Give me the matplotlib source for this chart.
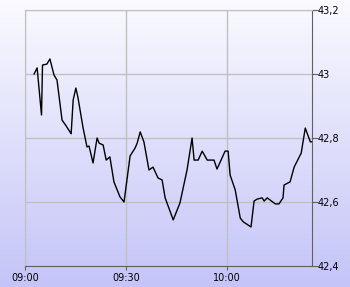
import numpy as np
import matplotlib.pyplot as plt

# minutes after 09:00 and price
minutes = [2.7, 3.6, 4.9, 5.2, 6.5, 7.4, 8.6, 9.5, 11.0, 12.2, 13.7, 14.3, 15.1, 15.7,
           17.2, 18.4, 19.0, 20.2, 21.4, 22.0, 23.2, 24.1, 25.2, 26.4, 28.2, 29.4,
           31.2, 32.7, 33.3, 34.2, 35.3, 36.8, 38.0, 39.5, 40.7, 41.6, 44.0, 46.0,
           48.1, 49.6, 50.2, 51.4, 52.6, 54.1, 56.1, 57.0, 59.4, 60.3, 60.9, 62.4,
           63.9, 64.8, 67.1, 68.0, 68.9, 70.4, 71.0, 71.9, 74.3, 75.4, 76.6, 76.9,
           78.7, 79.9, 82.0, 83.2, 84.7, 85.2]
price = [43.000, 43.019, 42.872, 43.028, 43.031, 43.047, 42.997, 42.981, 42.856, 42.838,
         42.813, 42.919, 42.956, 42.928, 42.834, 42.772, 42.775, 42.722, 42.800, 42.784,
         42.778, 42.731, 42.741, 42.663, 42.616, 42.600, 42.744, 42.769, 42.784, 42.819,
         42.788, 42.700, 42.709, 42.675, 42.669, 42.613, 42.544, 42.597, 42.700, 42.800,
         42.731, 42.731, 42.759, 42.731, 42.731, 42.703, 42.759, 42.759, 42.684, 42.638,
         42.550, 42.538, 42.522, 42.603, 42.609, 42.613, 42.603, 42.613, 42.594, 42.594,
         42.613, 42.653, 42.663, 42.709, 42.753, 42.831, 42.788, 42.788]

x_ticks = [0, 30, 60]
x_labels = ["09:00", "09:30", "10:00"]
y_ticks = [42.4, 42.6, 42.8, 43.0, 43.2]
y_labels = ["42,4", "42,6", "42,8", "43", "43,2"]

W, H = 350, 287
fig = plt.figure(figsize=(W / 100, H / 100), dpi=100)

# background gradient
bg = fig.add_axes([0, 0, 1, 1])
grad = np.linspace(0, 1, 256).reshape(-1, 1)
top = np.array([250, 250, 255]) / 255
bot = np.array([196, 196, 248]) / 255
img = top + grad[..., None] * (bot - top)
bg.imshow(img, aspect="auto", extent=[0, 1, 0, 1])
bg.set_axis_off()

ax = fig.add_axes([25 / W, 1 - 266 / H, 287 / W, 256 / H])
ax.patch.set_alpha(0)
ax.plot(minutes, price, color="black", lw=1)
ax.set_xlim(0, 85.2)
ax.set_ylim(42.4, 43.2)

ax.set_xticks(x_ticks)
ax.set_xticklabels(x_labels)
ax.set_yticks(y_ticks)
ax.set_yticklabels(y_labels)
ax.yaxis.tick_right()
ax.grid(True, color="#c0c0c0", lw=1)

for s in ["left", "top"]:
    ax.spines[s].set_color("#c0c0c0")
for s in ["right", "bottom"]:
    ax.spines[s].set_color("#606060")
ax.tick_params(axis="x", length=3, color="#606060", labelsize=7, pad=2)
ax.tick_params(axis="y", length=4, color="#606060", labelsize=7, pad=0)

fig.savefig("out.png", dpi=100)
